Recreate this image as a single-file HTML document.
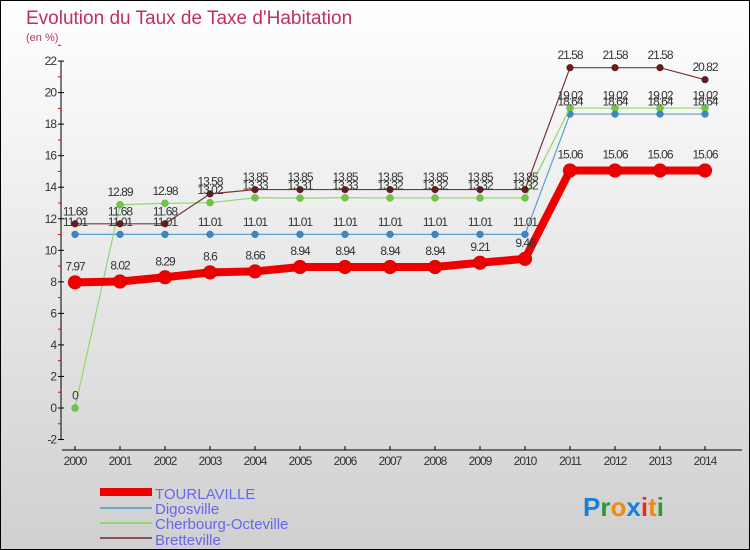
<!DOCTYPE html>
<html><head><meta charset="utf-8"><style>
html,body{margin:0;padding:0}
body{width:750px;height:550px;overflow:hidden;font-family:"Liberation Sans",sans-serif}
svg{display:block}
</style></head><body>
<svg id="c" width="750" height="550" xmlns="http://www.w3.org/2000/svg">
<defs><linearGradient id="bg" x1="0" y1="0" x2="0" y2="1"><stop offset="0" stop-color="#ffffff"/><stop offset="1" stop-color="#d0d0d0"/></linearGradient></defs>
<rect x="0.5" y="0.5" width="749" height="549" fill="url(#bg)" stroke="#000"/>
<text x="26" y="24" font-size="19" fill="#c0305a">Evolution du Taux de Taxe d'Habitation</text>
<text x="26" y="41" font-size="11" fill="#c0306a">(en %)</text>
<g id="axes"></g><g id="series"></g><g id="labels"></g>
<g>
<rect x="100" y="488" width="52" height="8" fill="#e00"/>
<text x="155" y="499" font-size="15" fill="#6666ee">TOURLAVILLE</text>
<line x1="100" y1="508" x2="152" y2="508" stroke="#6aa6c8" stroke-width="2"/>
<text x="155" y="514" font-size="15" fill="#6666ee">Digosville</text>
<line x1="100" y1="523" x2="152" y2="523" stroke="#8fd86a" stroke-width="2"/>
<text x="155" y="529" font-size="15" fill="#6666ee">Cherbourg-Octeville</text>
<line x1="100" y1="538" x2="152" y2="538" stroke="#8a5050" stroke-width="2"/>
<text x="155" y="545" font-size="15" fill="#6666ee">Bretteville</text>
</g>
<g font-size="26" font-weight="bold">
<text x="583" y="516"><tspan fill="#1a7fd8">P</tspan><tspan fill="#2a9a3a">r</tspan><tspan fill="#f08a10">o</tspan><tspan fill="#1a7fd8">x</tspan><tspan fill="#e03020">i</tspan><tspan fill="#f08a10">t</tspan><tspan fill="#2a9a3a">i</tspan></text>
</g>
</svg>
<script>
const years=[2000,2001,2002,2003,2004,2005,2006,2007,2008,2009,2010,2011,2012,2013,2014];
const yTicks=[-2,0,2,4,6,8,10,12,14,16,18,20,22];
const tourlaville=[7.97,8.02,8.29,8.6,8.66,8.94,8.94,8.94,8.94,9.21,9.46,15.06,15.06,15.06,15.06];
const digosville=[11.01,11.01,11.01,11.01,11.01,11.01,11.01,11.01,11.01,11.01,11.01,18.64,18.64,18.64,18.64];
const cherbourg=[0,12.89,12.98,13.02,13.33,13.31,13.33,13.32,13.32,13.32,13.32,19.02,19.02,19.02,19.02];
const bretteville=[11.68,11.68,11.68,13.58,13.85,13.85,13.85,13.85,13.85,13.85,13.85,21.58,21.58,21.58,20.82];
const NS="http://www.w3.org/2000/svg";
const xs=i=>75+i*45;
const ys=v=>408-v*15.77;
function mk(t,a,p){const e=document.createElementNS(NS,t);for(const k in a)e.setAttribute(k,a[k]);p.appendChild(e);return e;}
const ax=document.getElementById('axes');
const yl=mk('line',{x1:61,y1:ys(22),x2:61,y2:ys(-2),stroke:'#000'},ax);


const xl=mk('line',{x1:62,y1:450,x2:742,y2:450,stroke:'#000'},ax);


yTicks.forEach(v=>{
  mk('line',{x1:58,y1:ys(v),x2:64,y2:ys(v),stroke:'#000'},ax);
  mk('line',{x1:58,y1:ys(v+1),x2:61,y2:ys(v+1),stroke:'#e00'},ax);
  const t=mk('text',{x:56,y:ys(v)+4,'font-size':12,'text-anchor':'end',fill:'#333','letter-spacing':'-1'},ax);
  t.textContent=v;
  
  
});
years.forEach((y,i)=>{
  mk('line',{x1:xs(i),y1:446,x2:xs(i),y2:450,stroke:'#000'},ax);
  const t=mk('text',{x:xs(i),y:465,'font-size':12,'text-anchor':'middle',fill:'#333','letter-spacing':'-1'},ax);
  t.textContent=y;
  
  
});
const sg=document.getElementById('series'),lg=document.getElementById('labels');
function series(data,color,dot,w,r,name){
  const g=mk('g',{},sg);
  
  
  mk('polyline',{points:data.map((v,i)=>xs(i)+','+ys(v)).join(' '),fill:'none',stroke:color,'stroke-width':w,'stroke-linejoin':'round'},g);
  data.forEach((v,i)=>{
    const c=mk('circle',{cx:xs(i),cy:ys(v),r:r,fill:dot,stroke:'rgba(0,0,0,0.25)','stroke-width':0.5},g);
    
    
    const t=mk('text',{x:xs(i),y:ys(v)-(r+5),'font-size':12,'text-anchor':'middle',fill:'#333','letter-spacing':'-1'},lg);
    t.textContent=String(v);
    
    
  });
}
series(digosville,'#5aa0d0','#3a88c8',1.2,3.5,'digosville');
series(cherbourg,'#8fd86a','#6cc840',1.2,3.5,'cherbourg');
series(bretteville,'#7a3535','#6a1a1a',1.2,3.5,'bretteville');
series(tourlaville,'#ee0000','#ee0000',8,7,'tourlaville');
</script>
</body></html>
